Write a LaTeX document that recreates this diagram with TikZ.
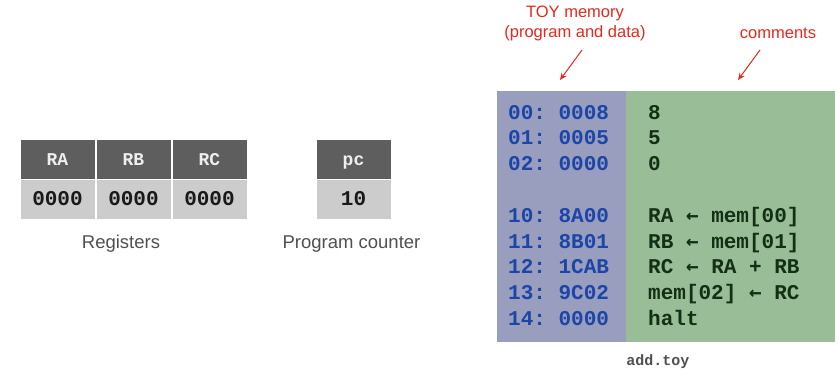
\documentclass[tikz,border=0pt]{standalone}
\usepackage{fontspec}
\setmainfont{Liberation Sans}
\newfontfamily\monob{Liberation Mono}
\newfontfamily\arrfont{DejaVu Sans Mono}
\usetikzlibrary{arrows.meta}
\definecolor{hdr}{HTML}{5E5E5E}
\definecolor{val}{HTML}{CCCCCC}
\definecolor{hdrtxt}{HTML}{EEEEEE}
\definecolor{lblgray}{HTML}{505050}
\definecolor{memL}{HTML}{999DBE}
\definecolor{memR}{HTML}{99BD97}
\definecolor{addrblue}{HTML}{1C45A8}
\definecolor{cmtgreen}{HTML}{143014}
\definecolor{annred}{HTML}{E8281E}
\newcommand{\la}{{\arrfont\bfseries ←}}
\begin{document}
\begin{tikzpicture}[x=1pt,y=-1pt,
  hdrcell/.style={rectangle,fill=hdr,draw=white,line width=1pt,minimum width=75pt,minimum height=40pt,inner sep=0pt,
     text height=12pt,text depth=0pt,
     font=\monob\bfseries\fontsize{18}{18}\selectfont,text=hdrtxt},
  valcell/.style={rectangle,fill=val,draw=white,line width=1pt,minimum width=75pt,minimum height=40pt,inner sep=0pt,
     text height=13.8pt,text depth=0pt,
     font=\monob\bfseries\fontsize{21}{21}\selectfont,text=black!90},
  caption/.style={font=\fontsize{18.5}{18.5}\selectfont,text=lblgray,inner sep=0pt},
  addr/.style={anchor=base west,inner sep=0pt,font=\monob\bfseries\fontsize{21}{21}\selectfont,text=addrblue},
  cmt/.style={anchor=base west,inner sep=0pt,font=\monob\bfseries\fontsize{21}{21}\selectfont,text=cmtgreen},
  ann/.style={font=\fontsize{16.5}{20}\selectfont,text=annred,inner sep=0pt,align=center},
  annarrow/.style={draw=annred,line width=1pt,-{Stealth[length=7pt,width=6pt]}}
]
\path[use as bounding box,fill=white] (0,0) rectangle (839,372);

% registers
\node[hdrcell] (hRA) at (57.5,159) {RA};
\node[hdrcell] (hRB) at (133.5,159) {RB};
\node[hdrcell] (hRC) at (209.5,159) {RC};
\node[valcell] (vRA) at (57.5,199) {0000};
\node[valcell] (vRB) at (133.5,199) {0000};
\node[valcell] (vRC) at (209.5,199) {0000};
\node[caption] (regs) at (121,244) {Registers};

% program counter
\node[hdrcell] (hpc) at (353.5,159) {pc};
\node[valcell] (vpc) at (353.5,199) {10};
\node[caption] (pclbl) at (351.5,244) {Program counter};

% memory
\node[rectangle,fill=memL,minimum width=129pt,minimum height=251pt,inner sep=0pt] (memleft) at (561.5,216.5) {};
\node[rectangle,fill=memR,minimum width=209pt,minimum height=251pt,inner sep=0pt] (memright) at (730.5,216.5) {};

\node[addr] (a00) at (508,119) {00:~0008};
\node[addr] (a01) at (508,144.8) {01:~0005};
\node[addr] (a02) at (508,170.6) {02:~0000};
\node[addr] (a10) at (508,222.2) {10:~8A00};
\node[addr] (a11) at (508,248) {11:~8B01};
\node[addr] (a12) at (508,273.8) {12:~1CAB};
\node[addr] (a13) at (508,299.6) {13:~9C02};
\node[addr] (a14) at (508,325.4) {14:~0000};

\node[cmt] (c00) at (648,119) {8};
\node[cmt] (c01) at (648,144.8) {5};
\node[cmt] (c02) at (648,170.6) {0};
\node[cmt] (c10) at (648,222.2) {RA \la{} mem[00]};
\node[cmt] (c11) at (648,248) {RB \la{} mem[01]};
\node[cmt] (c12) at (648,273.8) {RC \la{} RA + RB};
\node[cmt] (c13) at (648,299.6) {mem[02] \la{} RC};
\node[cmt] (c14) at (648,325.4) {halt};

\node[inner sep=0pt,font=\monob\bfseries\fontsize{15}{15}\selectfont,text=lblgray] (fname) at (658,362) {add.toy};

% annotations
\node[ann] (toylbl) at (575,23) {TOY memory\\(program and data)};
\node[ann] (cmtlbl) at (778,33) {comments};
\coordinate (toystart) at (582,50);
\coordinate (toyend) at (560,80);
\coordinate (cmtstart) at (760,50);
\coordinate (cmtend) at (738,80);
\draw[annarrow] (toystart) -- (toyend);
\draw[annarrow] (cmtstart) -- (cmtend);
\end{tikzpicture}
\end{document}
